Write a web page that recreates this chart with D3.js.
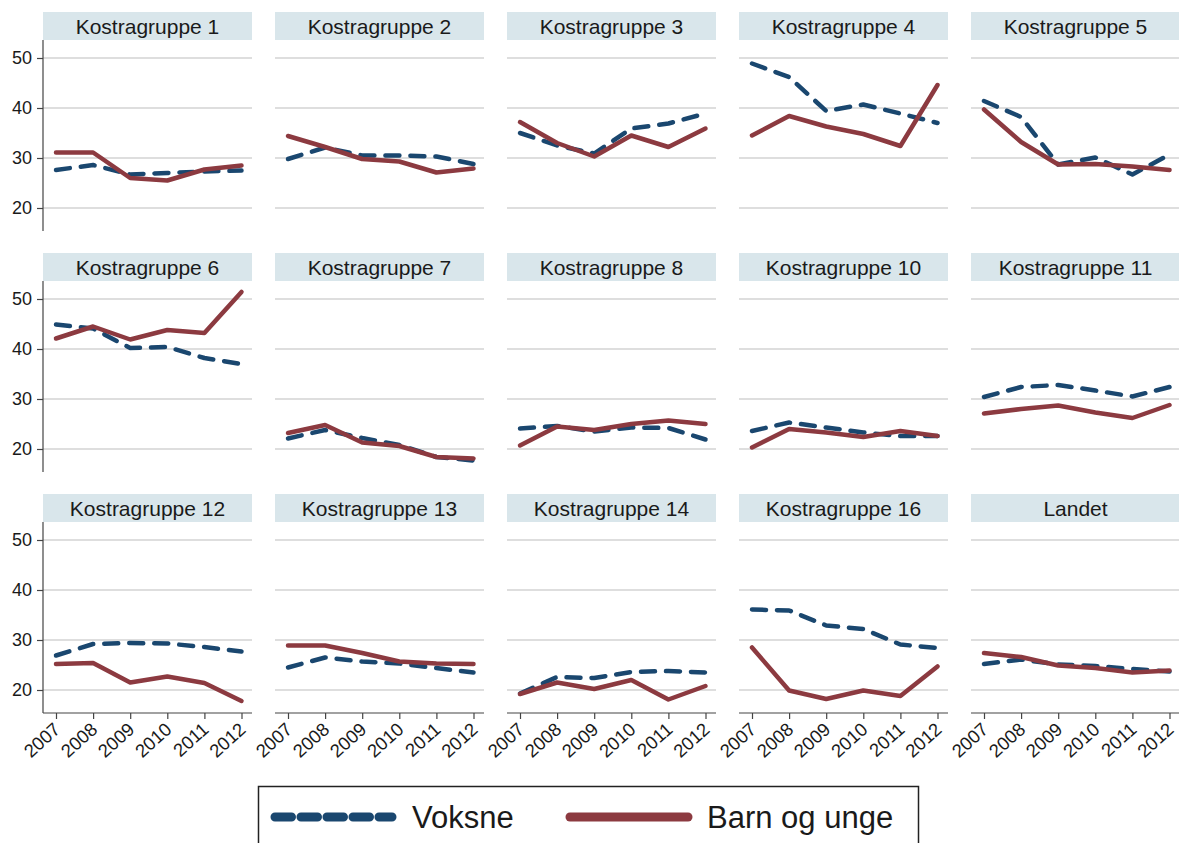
<!DOCTYPE html>
<html>
<head>
<meta charset="utf-8">
<script src="https://cdn.jsdelivr.net/npm/d3@7"></script>
<style>
  body { margin: 0; background: #fff; }
  svg { display: block; font-family: "Liberation Sans", Arial, sans-serif; }
</style>
</head>
<body>
<script>
// Data
const years = [2007, 2008, 2009, 2010, 2011, 2012];
const groups = ["Kostragruppe 1", "Kostragruppe 2", "Kostragruppe 3", "Kostragruppe 4", "Kostragruppe 5",
  "Kostragruppe 6", "Kostragruppe 7", "Kostragruppe 8", "Kostragruppe 10", "Kostragruppe 11",
  "Kostragruppe 12", "Kostragruppe 13", "Kostragruppe 14", "Kostragruppe 16", "Landet"];
const voksne = [
  [27.6, 28.6, 26.7, 27.0, 27.3, 27.5],
  [29.8, 32.1, 30.5, 30.5, 30.3, 28.8],
  [35.0, 32.5, 30.9, 35.9, 36.9, 38.9],
  [48.9, 46.2, 39.4, 40.7, 38.9, 37.0],
  [41.4, 38.2, 28.7, 30.1, 26.7, 30.7],
  [44.9, 44.1, 40.2, 40.4, 38.2, 37.0],
  [22.1, 23.8, 22.2, 20.8, 18.4, 17.7],
  [24.1, 24.6, 23.5, 24.3, 24.2, 21.9],
  [23.6, 25.3, 24.3, 23.3, 22.6, 22.6],
  [30.4, 32.4, 32.8, 31.7, 30.5, 32.4],
  [26.9, 29.2, 29.4, 29.3, 28.6, 27.7],
  [24.5, 26.5, 25.7, 25.3, 24.4, 23.5],
  [19.3, 22.6, 22.4, 23.6, 23.8, 23.5],
  [36.1, 35.9, 32.9, 32.2, 29.1, 28.4],
  [25.2, 26.1, 25.1, 24.8, 24.2, 23.7]
];
const barn = [
  [31.1, 31.1, 26.0, 25.5, 27.7, 28.5],
  [34.4, 32.2, 29.8, 29.3, 27.1, 27.9],
  [37.2, 33.0, 30.3, 34.5, 32.2, 35.9],
  [34.5, 38.4, 36.3, 34.8, 32.4, 44.6],
  [39.7, 33.2, 28.7, 28.8, 28.3, 27.6],
  [42.1, 44.5, 41.9, 43.8, 43.2, 51.4],
  [23.2, 24.8, 21.3, 20.6, 18.4, 18.1],
  [20.7, 24.5, 23.8, 25.0, 25.7, 25.0],
  [20.3, 24.0, 23.3, 22.4, 23.6, 22.6],
  [27.1, 28.0, 28.7, 27.3, 26.2, 28.8],
  [25.2, 25.4, 21.5, 22.7, 21.4, 17.8],
  [28.9, 28.9, 27.4, 25.7, 25.3, 25.2],
  [19.2, 21.5, 20.2, 22.0, 18.1, 20.8],
  [28.5, 19.9, 18.2, 19.9, 18.8, 24.7],
  [27.4, 26.6, 24.9, 24.4, 23.5, 23.9]
];
const yTicks = [20, 30, 40, 50];
const seriesNames = ["Voksne", "Barn og unge"];

// Layout
const W = 1179, H = 843;
const cols = 5;
const left0 = 43, colStep = 232, panelW = 209;
const top0 = 12, rowStep = 241, stripH = 28, plotH = 191;
const navy = "#1a476f", maroon = "#8c3a40";

const svg = d3.select("body").append("svg")
  .attr("width", W).attr("height", H);

const x = d3.scaleLinear().domain([2007, 2012]).range([13, 198.5]);
const y = d3.scaleLinear().domain([15.4, 53.6]).range([plotH, 0]);

const line = d3.line()
  .x((d, i) => x(years[i]))
  .y(d => y(d));

groups.forEach((name, gi) => {
  const col = gi % cols, row = Math.floor(gi / cols);
  const g = svg.append("g")
    .attr("transform", `translate(${left0 + col * colStep},${top0 + row * rowStep})`);

  // strip
  g.append("rect")
    .attr("width", panelW).attr("height", stripH)
    .attr("fill", "#d9e6eb");
  g.append("text")
    .attr("x", panelW / 2).attr("y", stripH / 2 + 7.5)
    .attr("text-anchor", "middle")
    .attr("font-size", 21)
    .attr("fill", "#1a1a1a")
    .text(name);

  const p = g.append("g").attr("transform", `translate(0,${stripH})`);

  // gridlines
  p.selectAll(".grid").data(yTicks).enter().append("line")
    .attr("x1", 0).attr("x2", panelW)
    .attr("y1", d => y(d)).attr("y2", d => y(d))
    .attr("stroke", "#d3d3d3").attr("stroke-width", 1.5);

  // y axis only on first column
  if (col === 0) {
    const ya = p.append("g")
      .call(d3.axisLeft(y).tickValues(yTicks).tickSize(6).tickPadding(5).tickSizeOuter(0));
    ya.select(".domain").remove();
    ya.selectAll("line").attr("stroke", "#444").attr("stroke-width", 1.2);
    ya.selectAll("text").attr("font-size", 18).attr("fill", "#1a1a1a")
      .attr("font-family", "Liberation Sans, Arial, sans-serif");
    p.append("line")
      .attr("x1", 0).attr("x2", 0).attr("y1", 0).attr("y2", plotH)
      .attr("stroke", "#444").attr("stroke-width", 1.2);
  }

  // x axis only on bottom row
  if (row === 2) {
    const xa = p.append("g")
      .attr("transform", `translate(0,${plotH})`)
      .call(d3.axisBottom(x).tickValues(years).tickFormat(d3.format("d")).tickSize(6).tickSizeOuter(0));
    xa.select(".domain").remove();
    xa.selectAll("line").attr("stroke", "#444").attr("stroke-width", 1.2);
    xa.selectAll("text")
      .attr("font-size", 18.5).attr("fill", "#1a1a1a")
      .attr("font-family", "Liberation Sans, Arial, sans-serif")
      .attr("text-anchor", "end")
      .attr("x", 0).attr("y", 0).attr("dy", null)
      .attr("transform", "translate(5,18) rotate(-42)");
    p.append("line")
      .attr("x1", 0).attr("x2", panelW).attr("y1", plotH).attr("y2", plotH)
      .attr("stroke", "#444").attr("stroke-width", 1.2);
  }

  // lines
  p.append("path")
    .datum(voksne[gi])
    .attr("d", line)
    .attr("fill", "none")
    .attr("stroke", navy)
    .attr("stroke-width", 4.5)
    .attr("stroke-dasharray", "14,11")
    .attr("stroke-linecap", "round")
    .attr("stroke-linejoin", "round");
  p.append("path")
    .datum(barn[gi])
    .attr("d", line)
    .attr("fill", "none")
    .attr("stroke", maroon)
    .attr("stroke-width", 4.5)
    .attr("stroke-linecap", "round")
    .attr("stroke-linejoin", "round");
});

// Legend
const lg = svg.append("g");
lg.append("rect")
  .attr("x", 258.5).attr("y", 786.5).attr("width", 660).attr("height", 80)
  .attr("fill", "#fff").attr("stroke", "#222").attr("stroke-width", 1.5);
lg.append("line")
  .attr("x1", 275).attr("x2", 392).attr("y1", 817).attr("y2", 817)
  .attr("stroke", navy).attr("stroke-width", 9)
  .attr("stroke-dasharray", "16.5,9.5").attr("stroke-linecap", "round");
lg.append("text")
  .attr("x", 412).attr("y", 828)
  .attr("font-size", 31).attr("fill", "#1a1a1a")
  .text(seriesNames[0]);
lg.append("line")
  .attr("x1", 570).attr("x2", 688).attr("y1", 817).attr("y2", 817)
  .attr("stroke", maroon).attr("stroke-width", 9)
  .attr("stroke-linecap", "round");
lg.append("text")
  .attr("x", 707).attr("y", 828)
  .attr("font-size", 31).attr("fill", "#1a1a1a")
  .text(seriesNames[1]);
</script>
</body>
</html>
